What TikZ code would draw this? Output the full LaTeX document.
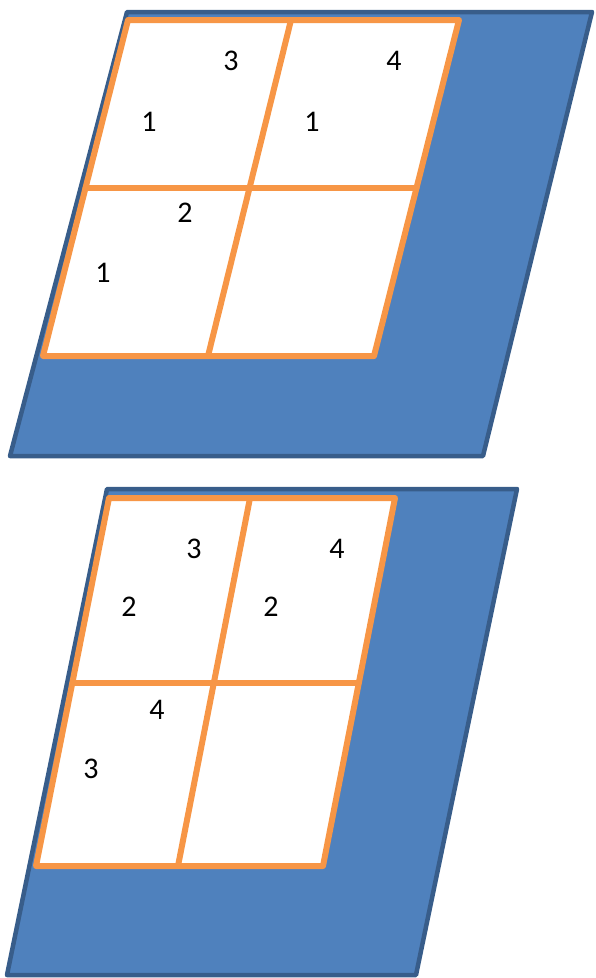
\documentclass[tikz,border=0pt]{standalone}
\usepackage{fontspec}
\setmainfont{Carlito}
\definecolor{bfill}{HTML}{4F81BD}
\definecolor{bline}{HTML}{385D8A}
\definecolor{ogrid}{HTML}{F79646}
\begin{document}
\begin{tikzpicture}[x=1pt,y=-1pt,
  base/.style={fill=bfill,draw=bline,line width=4.5pt,line join=round},
  gridline/.style={draw=ogrid,line width=6pt,line join=round,line cap=round},
  num/.style={font=\fontsize{30}{36}\selectfont,inner sep=0pt}]
\useasboundingbox (0,0) rectangle (596,978);
% top panel
\draw[base] (127,12) -- (592,12) -- (483,456) -- (10,456) -- cycle;
\fill[white] (128,20) -- (459,20) -- (374,356) -- (43,356) -- cycle;
\draw[gridline] (128,20) -- (459,20) -- (374,356) -- (43,356) -- cycle;
\draw[gridline] (85.5,188) -- (416.5,188);
\draw[gridline] (291,20) -- (208,356);
\node[num] (t3) at (231,61) {3};
\node[num] (t4) at (394,61) {4};
\node[num] (t1a) at (149,122) {1};
\node[num] (t1b) at (312,122) {1};
\node[num] (t2) at (185,213) {2};
\node[num] (t1c) at (103,273) {1};
% bottom panel
\draw[base] (107,489) -- (517,489) -- (416,975) -- (7,975) -- cycle;
\fill[white] (109,498) -- (395,498) -- (323,866) -- (36,866) -- cycle;
\draw[gridline] (109,498) -- (395,498) -- (323,866) -- (36,866) -- cycle;
\draw[gridline] (72.5,683) -- (358.5,683);
\draw[gridline] (250,498) -- (178,866);
\node[num] (b3) at (194,549) {3};
\node[num] (b4) at (337,549) {4};
\node[num] (b2a) at (129,607) {2};
\node[num] (b2b) at (271,607) {2};
\node[num] (b4b) at (157,710) {4};
\node[num] (b3b) at (91,769) {3};
\end{tikzpicture}
\end{document}
